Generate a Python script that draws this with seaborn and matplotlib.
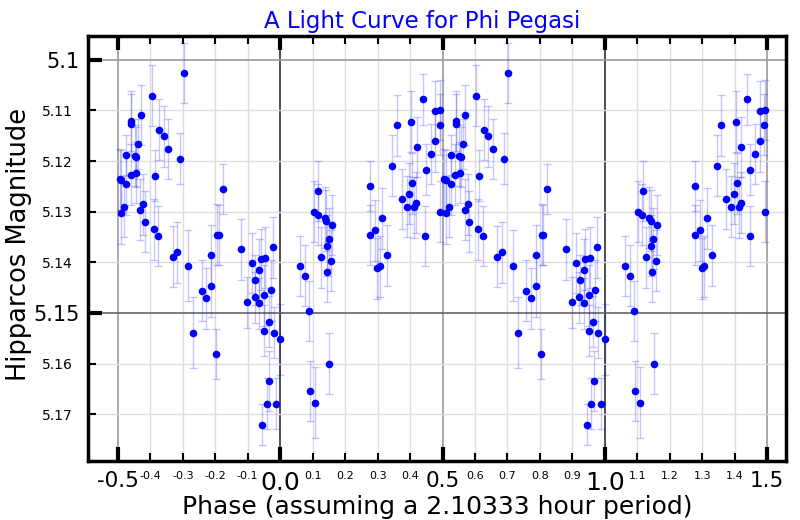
import numpy as np
import pandas as pd
import seaborn as sns
import matplotlib.pyplot as plt

# Fase (0..1), magnitud Hipparcos y error
fase = [0.703, 0.604, 0.541, 0.541, 0.570, 0.627, 0.641, 0.654, 0.690, 0.562,
        0.526, 0.552, 0.557, 0.506, 0.511, 0.525, 0.539, 0.555, 0.613, 0.823,
        0.519, 0.510, 0.577, 0.569, 0.583, 0.610, 0.625, 0.805, 0.810, 0.669,
        0.683, 0.716, 0.787, 0.879, 0.912, 0.940, 0.954, 0.977, 0.936, 0.922,
        0.971, 0.950, 0.921, 0.936, 0.898, 0.758, 0.773, 0.788, 0.732, 0.802,
        0.964, 0.951, 0.980, 0.000, 0.966, 0.958, 0.987, 0.944,
        0.439, 0.478, 0.493, 0.359, 0.403, 0.491, 0.420, 0.477, 0.463, 0.344,
        0.448, 0.406, 0.397, 0.374, 0.419, 0.390, 0.412, 0.493, 0.277, 0.117,
        0.103, 0.115, 0.137, 0.142, 0.161, 0.314, 0.277, 0.293, 0.447, 0.149,
        0.143, 0.127, 0.157, 0.144, 0.330, 0.299, 0.306, 0.062, 0.076, 0.090,
        0.150, 0.092, 0.107]
magnitud = [5.1026, 5.1071, 5.1121, 5.1127, 5.1109, 5.1138, 5.1151, 5.1176, 5.1195, 5.1166,
            5.1188, 5.1189, 5.1192, 5.1236, 5.1238, 5.1246, 5.1227, 5.1223, 5.1229, 5.1255,
            5.1290, 5.1303, 5.1285, 5.1296, 5.1320, 5.1335, 5.1348, 5.1345, 5.1346, 5.1389,
            5.1380, 5.1407, 5.1386, 5.1374, 5.1401, 5.1394, 5.1391, 5.1370, 5.1414, 5.1435,
            5.1455, 5.1465, 5.1469, 5.1481, 5.1479, 5.1456, 5.1471, 5.1447, 5.1539, 5.1581,
            5.1517, 5.1535, 5.1539, 5.1552, 5.1634, 5.1679, 5.1679, 5.1720,
            5.1078, 5.1102, 5.1099, 5.1129, 5.1122, 5.1128, 5.1172, 5.1161, 5.1186, 5.1209,
            5.1217, 5.1244, 5.1264, 5.1275, 5.1282, 5.1290, 5.1291, 5.1300, 5.1249, 5.1259,
            5.1300, 5.1306, 5.1312, 5.1318, 5.1326, 5.1313, 5.1346, 5.1337, 5.1348, 5.1353,
            5.1367, 5.1390, 5.1397, 5.1418, 5.1386, 5.1412, 5.1408, 5.1407, 5.1426, 5.1496,
            5.1600, 5.1654, 5.1677]
error = [0.006, 0.006, 0.006, 0.006, 0.006, 0.006, 0.006, 0.006, 0.005, 0.005,
         0.004, 0.006, 0.006, 0.006, 0.006, 0.006, 0.006, 0.006, 0.005, 0.005,
         0.006, 0.006, 0.006, 0.006, 0.006, 0.006, 0.006, 0.006, 0.006, 0.006,
         0.006, 0.007, 0.006, 0.006, 0.006, 0.006, 0.006, 0.006, 0.006, 0.005,
         0.006, 0.006, 0.005, 0.005, 0.005, 0.006, 0.006, 0.006, 0.007, 0.005,
         0.005, 0.005, 0.005, 0.007, 0.006, 0.005, 0.005, 0.004,
         0.005, 0.006, 0.006, 0.006, 0.006, 0.006, 0.006, 0.006, 0.006, 0.006,
         0.005, 0.006, 0.006, 0.006, 0.006, 0.006, 0.006, 0.006, 0.005, 0.006,
         0.006, 0.006, 0.006, 0.006, 0.006, 0.006, 0.006, 0.006, 0.006, 0.006,
         0.006, 0.006, 0.006, 0.006, 0.006, 0.006, 0.006, 0.006, 0.006, 0.006,
         0.006, 0.006, 0.007]

# Ticks de los ejes
x_mayores = [-0.5, 0.0, 0.5, 1.0, 1.5]
x_menores = [-0.4, -0.3, -0.2, -0.1, 0.1, 0.2, 0.3, 0.4, 0.6, 0.7, 0.8, 0.9,
             1.1, 1.2, 1.3, 1.4]
y_mayores = [5.10, 5.15]
y_menores = [5.11, 5.12, 5.13, 5.14, 5.16, 5.17]

df = pd.DataFrame({"fase": fase, "mag": magnitud, "err": error})
# repetimos la curva (periodo 1) para cubrir de -0.5 a 1.5
datos = pd.concat([df.assign(fase=df["fase"] + k) for k in (-1, 0, 1)])
datos = datos[(datos["fase"] >= -0.5) & (datos["fase"] <= 1.5)]

sns.set_style("white")
plt.rcParams.update({"text.color": "black", "axes.labelcolor": "black",
                     "xtick.color": "black", "ytick.color": "black"})
fig = plt.figure(figsize=(8, 5.2), dpi=100)
ax = fig.add_axes([0.11, 0.1135, 0.8725, 0.8173])

ax.errorbar(datos["fase"], datos["mag"], yerr=datos["err"], fmt="none",
            ecolor=(0, 0, 1, 0.22), elinewidth=1, capsize=3, capthick=1, zorder=2)
sns.scatterplot(data=datos, x="fase", y="mag", color="blue", s=30,
                linewidth=0, ax=ax, zorder=3)

ax.set_xlim(-0.592, 1.558)
ax.set_ylim(5.1792, 5.0953)

# ticks y etiquetas
ax.set_xticks(x_mayores, labels=[f"{v:.1f}" for v in x_mayores])
ax.set_xticks(x_menores, labels=[f"{v:.1f}" for v in x_menores], minor=True)
ax.set_yticks(y_mayores, labels=[f"{v:g}" for v in y_mayores])
ax.set_yticks(y_menores, labels=[f"{v:g}" for v in y_menores], minor=True)

ax.tick_params(axis="x", which="major", direction="in", length=10, width=3,
               top=True, bottom=True, labelsize=15.5, pad=7)
ax.tick_params(axis="x", which="minor", direction="in", length=6, width=1.5,
               top=True, bottom=True, labelsize=8, pad=7)
ax.tick_params(axis="y", which="major", direction="in", length=10, width=3,
               left=True, labelsize=15, pad=6)
ax.tick_params(axis="y", which="minor", direction="in", length=6, width=1.5,
               left=True, labelsize=10, pad=11)

ax.grid(True, which="major", color="#9a9a9a", linewidth=1.2, zorder=0)
ax.grid(True, which="minor", color="#dedede", linewidth=1, zorder=0)
ax.set_axisbelow(True)

# las fases enteras y la linea de 5.15 van mas oscuras
for t in ax.xaxis.get_major_ticks():
    if abs(t.get_loc() - round(t.get_loc())) < 1e-9:
        t.label1.set_fontsize(18)
        t.gridline.set_color("#303030")
for t in ax.yaxis.get_major_ticks():
    if abs(t.get_loc() - 5.15) < 1e-9:
        t.gridline.set_color("#666666")

for s in ax.spines.values():
    s.set_linewidth(2.5)
    s.set_color("black")

ax.set_title("A Light Curve for Phi Pegasi", color="blue", fontsize=16.5,
             pad=6, x=0.478)
ax.set_xlabel("Phase (assuming a 2.10333 hour period)", fontsize=18, labelpad=0)
ax.set_ylabel("Hipparcos Magnitude", fontsize=18.5)
ax.yaxis.set_label_coords(-0.08, 0.51)

fig.savefig("out.png", dpi=100)
